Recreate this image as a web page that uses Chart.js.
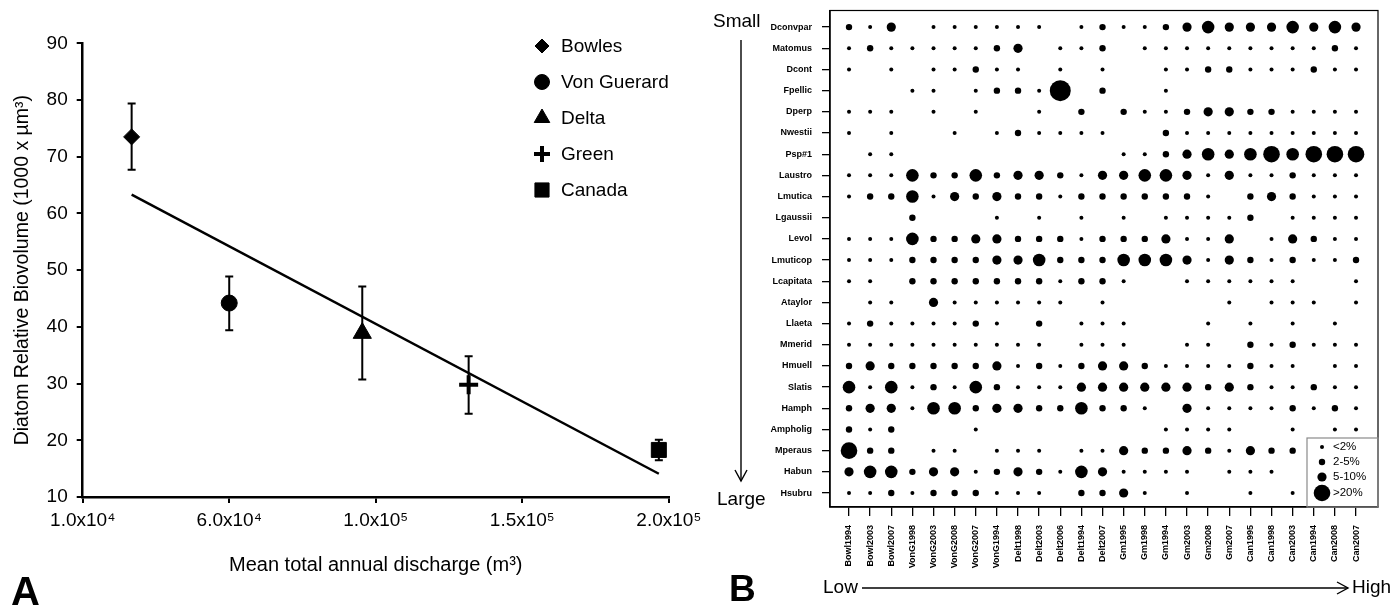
<!DOCTYPE html>
<html>
<head>
<meta charset="utf-8">
<script src="https://cdn.jsdelivr.net/npm/chart.js@4.4.1/dist/chart.umd.min.js"></script>
<style>
    body { margin: 0; background: #fff; }
    #wrap { position: relative; width: 1394px; height: 609px; font-family: Arial, "Liberation Sans", sans-serif; color: #000; }
    #boxA { position: absolute; left: 0; top: 0; width: 740px; height: 609px; }
    #boxB { position: absolute; left: 740px; top: 0; width: 654px; height: 609px; }
    .lbl { position: absolute; white-space: nowrap; line-height: 1; }
    #arrows { position: absolute; left: 0; top: 0; }
</style>
</head>
<body>
<div id="wrap">
    <div id="boxA"><canvas id="chartA" width="740" height="609"></canvas></div>
    <div id="boxB"><canvas id="chartB" width="654" height="609"></canvas></div>
    <svg id="arrows" width="1394" height="609">
        <g stroke="#000" stroke-width="1.4" fill="none">
            <line x1="741" y1="40" x2="741" y2="481" />
            <polyline points="735,470 741,481 747,470" />
            <line x1="862" y1="588" x2="1348" y2="588" />
            <polyline points="1337,582 1348,588 1337,594" />
        </g>
    </svg>
    <div class="lbl" style="left:11px; top:571px; font-size:40px; font-weight:bold;">A</div>
    <div class="lbl" style="left:729px; top:570px; font-size:37px; font-weight:bold;">B</div>
    <div class="lbl" style="left:713px; top:11px; font-size:19px;">Small</div>
    <div class="lbl" style="left:717px; top:489px; font-size:19px;">Large</div>
    <div class="lbl" style="left:823px; top:577px; font-size:19px;">Low</div>
    <div class="lbl" style="left:1352px; top:577px; font-size:19px;">High</div>
</div>

<script>
const FONT = 'Arial, "Liberation Sans", sans-serif';

// ---- Panel A data ----
const sites = ['Bowles', 'Von Guerard', 'Delta', 'Green', 'Canada'];
const discharge = [26700, 60000, 105400, 141700, 206600];
const biovolume = [73.5, 44.2, 38.9, 29.8, 18.3];
const errLow = [67.7, 39.4, 30.7, 24.7, 16.5];
const errHigh = [79.4, 48.9, 47.1, 34.8, 20.1];
const trendX = [26700, 206600];
const trendY = [63.3, 14.1];
const xTickValues = [10000, 60000, 110000, 160000, 210000];
const xTickLabels = ['1.0x10\u2074', '6.0x10\u2074', '1.0x10\u2075', '1.5x10\u2075', '2.0x10\u2075'];

// marker styles (not data)
const siteStyles = ['rectRot', 'circle', 'triangle', 'cross', 'rect'];
const siteRadius = [8, 8, 10.5, 9.5, 10.6];
const legendRadius = [7, 7.5, 9, 8, 10];

// ---- Panel B data ----
const samples = ['Bowl1994', 'Bowl2003', 'Bowl2007', 'VonG1998', 'VonG2003', 'VonG2008', 'VonG2007', 'VonG1994',
    'Delt1998', 'Delt2003', 'Delt2006', 'Delt1994', 'Delt2007', 'Gm1995', 'Gm1998', 'Gm1994', 'Gm2003', 'Gm2008',
    'Gm2007', 'Can1995', 'Can1998', 'Can2003', 'Can1994', 'Can2008', 'Can2007'];
const taxa = ['Dconvpar', 'Matomus', 'Dcont', 'Fpellic', 'Dperp', 'Nwestii', 'Psp#1', 'Laustro', 'Lmutica',
    'Lgaussii', 'Levol', 'Lmuticop', 'Lcapitata', 'Ataylor', 'Llaeta', 'Mmerid', 'Hmuell', 'Slatis', 'Hamph',
    'Ampholig', 'Mperaus', 'Habun', 'Hsubru'];
// relative abundance class per taxon (row) and sample (column): 0 absent, 1 <2%, 2 2-5%, 3 5-10%, 4 10-20%, 5 >20%, 6 dominant
const abundanceClass = [
    [2,1,3,0,1,1,1,1,1,1,0, 1,2,1,1,2,3,4,3,3,3,4,3,4,3],
    [1,2,1,1,1,1,1,2,3,0,1, 1,2,0,1,1,1,1,1,1,1,1,1,2,1],
    [1,0,1,0,1,1,2,1,1,0,1, 0,1,0,0,1,1,2,2,1,1,1,2,1,1],
    [0,0,0,1,1,0,1,2,2,1,6, 0,2,0,0,1,0,0,0,0,0,0,0,0,0],
    [1,1,1,0,1,0,1,0,0,1,0, 2,0,2,1,1,2,3,3,2,2,1,1,1,1],
    [1,0,1,0,0,1,0,1,2,1,1, 1,1,0,0,2,1,1,1,1,1,1,1,1,1],
    [0,1,1,0,0,0,0,0,0,0,0, 0,0,1,1,2,3,4,3,4,5,4,5,5,5],
    [1,1,1,4,2,2,4,2,3,3,2, 1,3,3,4,4,3,1,3,1,1,2,1,1,1],
    [1,2,2,4,1,3,2,3,2,2,1, 2,2,2,2,2,2,1,0,2,3,2,1,1,1],
    [0,0,0,2,0,0,0,1,0,1,0, 1,0,1,0,1,1,1,1,2,0,1,1,1,1],
    [1,1,1,4,2,2,3,3,2,2,2, 1,2,2,2,3,1,1,3,0,1,3,2,1,1],
    [1,1,1,2,2,2,2,3,3,4,2, 2,2,4,4,4,3,1,3,2,1,2,1,1,2],
    [1,1,0,2,2,2,2,2,2,2,1, 2,2,1,0,0,1,1,1,1,1,1,0,0,1],
    [0,1,1,0,3,1,1,1,1,1,1, 0,1,0,0,0,0,0,1,0,1,1,1,0,1],
    [1,2,1,1,1,1,2,1,0,2,0, 1,1,1,0,0,0,1,0,1,0,1,0,1,0],
    [1,1,1,1,1,1,1,1,1,1,0, 1,1,1,0,0,1,1,0,2,1,2,1,1,1],
    [2,3,2,2,2,2,2,3,1,2,1, 2,3,3,2,1,1,1,1,2,1,1,0,1,1],
    [4,1,4,1,2,1,4,2,1,1,1, 3,3,3,3,3,3,2,3,2,1,1,2,1,1],
    [2,3,3,1,4,4,2,3,3,2,2, 4,2,2,1,0,3,1,1,1,1,2,1,2,1],
    [2,1,2,0,0,0,1,0,0,0,0, 0,0,0,0,1,1,1,1,0,0,1,0,1,1],
    [5,2,2,0,1,1,0,1,1,1,0, 1,1,3,2,2,3,2,1,3,2,2,0,0,0],
    [3,4,4,2,3,3,1,2,3,2,1, 4,3,1,1,1,1,0,1,1,1,0,0,0,0],
    [1,1,2,1,2,2,2,1,1,1,0, 2,2,3,1,0,1,0,0,1,0,1,0,0,0]
];
const legendClasses = [1, 2, 3, 5];
const legendLabels = ['<2%', '2-5%', '5-10%', '>20%'];

// bubble radius per class (style)
const classRadius = [0, 2, 3.2, 4.6, 6.3, 8.3, 10.5];

// ---------- Panel A ----------
const errorBars = {
    id: 'errorBars',
    afterDatasetsDraw(chart) {
        const { ctx, scales: { x, y } } = chart;
        ctx.save();
        ctx.strokeStyle = '#000';
        ctx.lineWidth = 2;
        discharge.forEach((d, i) => {
            const px = x.getPixelForValue(d);
            const yl = y.getPixelForValue(errLow[i]);
            const yh = y.getPixelForValue(errHigh[i]);
            ctx.beginPath();
            ctx.moveTo(px, yl); ctx.lineTo(px, yh);
            ctx.moveTo(px - 4, yl); ctx.lineTo(px + 4, yl);
            ctx.moveTo(px - 4, yh); ctx.lineTo(px + 4, yh);
            ctx.stroke();
        });
        ctx.restore();
    }
};

const siteLegend = {
    id: 'siteLegend',
    afterDraw(chart) {
        const ctx = chart.ctx;
        ctx.save();
        ctx.fillStyle = '#000';
        ctx.strokeStyle = '#000';
        ctx.font = '19px ' + FONT;
        ctx.textBaseline = 'middle';
        sites.forEach((s, i) => {
            const y = 46 + i * 36;
            const bw = siteStyles[i] === 'cross' ? 4 : 1;
            ctx.lineWidth = bw;
            Chart.helpers.drawPoint(ctx, { pointStyle: siteStyles[i], rotation: 0, radius: legendRadius[i], borderWidth: bw }, 542, y);
            ctx.fillText(s, 561, y + 1);
        });
        ctx.restore();
    }
};

new Chart(document.getElementById('chartA'), {
    type: 'scatter',
    data: {
        datasets: [
            ...sites.map((s, i) => ({
                label: s,
                data: [{ x: discharge[i], y: biovolume[i] }],
                pointStyle: siteStyles[i],
                pointRadius: siteRadius[i],
                backgroundColor: '#000',
                borderColor: '#000',
                borderWidth: siteStyles[i] === 'cross' ? 4 : 1
            })),
            {
                type: 'line',
                label: 'trend',
                data: trendX.map((x, i) => ({ x: x, y: trendY[i] })),
                borderColor: '#000',
                borderWidth: 2.5,
                pointRadius: 0,
                fill: false
            }
        ]
    },
    options: {
        responsive: false,
        animation: false,
        events: [],
        layout: { padding: { left: 4, right: 71.2, top: 43.3, bottom: 27 } },
        plugins: { legend: { display: false }, tooltip: { enabled: false } },
        scales: {
            x: {
                type: 'linear',
                min: 10000,
                max: 210000,
                afterBuildTicks: s => { s.ticks = xTickValues.map(v => ({ value: v })); },
                afterFit: s => { s.height = 85; },
                ticks: {
                    callback: (v, i) => xTickLabels[i],
                    color: '#000',
                    font: { size: 19, family: FONT },
                    padding: 6,
                    maxRotation: 0,
                    autoSkip: false
                },
                grid: { drawOnChartArea: false, color: '#000', tickLength: 6, lineWidth: 2 },
                border: { color: '#000', width: 2.5 },
                title: {
                    display: true,
                    text: 'Mean total annual discharge (m\u00b3)',
                    color: '#000',
                    font: { size: 20, family: FONT },
                    padding: { top: 0, bottom: 5 }
                }
            },
            y: {
                min: 10,
                max: 90,
                afterFit: s => { s.width = 78.7; },
                ticks: { stepSize: 10, color: '#000', font: { size: 19, family: FONT }, padding: 9 },
                grid: { drawOnChartArea: false, color: '#000', tickLength: 6, lineWidth: 2 },
                border: { color: '#000', width: 2.5 },
                title: {
                    display: true,
                    text: 'Diatom Relative Biovolume (1000 x \u00b5m\u00b3)',
                    color: '#000',
                    font: { size: 19.5, family: FONT },
                    padding: { top: 7, bottom: 0 }
                }
            }
        }
    },
    plugins: [errorBars, siteLegend]
});

// ---------- Panel B ----------
const bubblePoints = [];
const bubbleRadii = [];
abundanceClass.forEach((row, r) => {
    row.forEach((cls, c) => {
        if (cls > 0) {
            bubblePoints.push({ x: c, y: r });
            bubbleRadii.push(classRadius[cls]);
        }
    });
});

const frameAndLegend = {
    id: 'frameAndLegend',
    afterDraw(chart) {
        const { ctx, chartArea: a } = chart;
        ctx.save();
        ctx.strokeStyle = '#000';
        ctx.lineWidth = 1.2;
        ctx.strokeRect(a.left, a.top, a.right - a.left, a.bottom - a.top);

        // abundance legend box, bottom right
        ctx.strokeStyle = '#8a8a8a';
        ctx.lineWidth = 1.2;
        ctx.strokeRect(567, 438, a.right - 567, a.bottom - 438);
        ctx.fillStyle = '#000';
        ctx.font = '11.5px ' + FONT;
        ctx.textBaseline = 'middle';
        const ys = [447, 462, 477, 493];
        legendClasses.forEach((cls, i) => {
            ctx.beginPath();
            ctx.arc(582, ys[i], classRadius[cls], 0, Math.PI * 2);
            ctx.fill();
            ctx.fillText(legendLabels[i], 593, ys[i]);
        });
        ctx.restore();
    }
};

new Chart(document.getElementById('chartB'), {
    type: 'scatter',
    data: {
        datasets: [{
            label: 'abundance',
            data: bubblePoints,
            pointRadius: bubbleRadii,
            backgroundColor: '#000',
            borderWidth: 0
        }]
    },
    options: {
        responsive: false,
        animation: false,
        events: [],
        layout: { padding: { left: 0, right: 16, top: 8.3, bottom: 12 } },
        plugins: { legend: { display: false }, tooltip: { enabled: false } },
        scales: {
            x: {
                type: 'linear',
                min: -0.9,
                max: 25.04,
                afterBuildTicks: s => { s.ticks = samples.map((_, i) => ({ value: i })); },
                afterFit: s => { s.height = 90; },
                ticks: {
                    callback: (v, i) => samples[i],
                    color: '#000',
                    font: { size: 9, weight: 'bold', family: FONT },
                    minRotation: 90,
                    maxRotation: 90,
                    autoSkip: false,
                    padding: 9
                },
                grid: { drawOnChartArea: false, color: '#000', tickLength: 9, lineWidth: 1.3 },
                border: { color: '#000', width: 1.5 }
            },
            y: {
                type: 'linear',
                reverse: true,
                min: -0.785,
                max: 22.66,
                afterBuildTicks: s => { s.ticks = taxa.map((_, i) => ({ value: i })); },
                afterFit: s => {
                    s.width = 90;
                    // labels sit well inside the frame, so no extra edge room is needed
                    s.paddingTop = 0;
                    s.paddingBottom = 0;
                },
                ticks: {
                    callback: (v, i) => taxa[i],
                    color: '#000',
                    font: { size: 9, weight: 'bold', family: FONT },
                    autoSkip: false,
                    padding: 10
                },
                grid: { drawOnChartArea: false, color: '#000', tickLength: 8, lineWidth: 1.3 },
                border: { color: '#000', width: 1.5 }
            }
        }
    },
    plugins: [frameAndLegend]
});
</script>
</body>
</html>
